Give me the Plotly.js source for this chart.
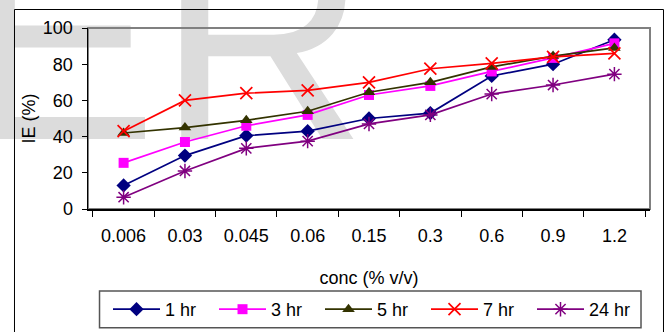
<!DOCTYPE html>
<html>
<head>
<meta charset="utf-8">
<script src="https://cdn.plot.ly/plotly-3.0.1.min.js"></script>
<style>
  html, body { margin: 0; padding: 0; background: #ffffff; }
  #wrap { position: relative; width: 670px; height: 332px; overflow: hidden; background: #ffffff; }
  #wm { position: absolute; left: -36px; top: -107px; font-family: "Liberation Sans", Arial, sans-serif;
        font-size: 290px; line-height: 1; color: #dcdcdc; white-space: nowrap; z-index: 0; }
  #chart { position: absolute; left: 0; top: 0; width: 670px; height: 332px; z-index: 1; }
</style>
</head>
<body>
<div id="wrap">
  <div id="wm">ER</div>
  <div id="chart"></div>
</div>
<script>
const categories = ['0.006', '0.03', '0.045', '0.06', '0.15', '0.3', '0.6', '0.9', '1.2'];
const seriesNames = ['1 hr', '3 hr', '5 hr', '7 hr', '24 hr'];
const hr1  = [13, 29.5, 40.5, 43, 50, 53, 73.5, 80, 93.5];
const hr3  = [25.5, 37, 46, 52, 63, 68, 76, 83.5, 91.5];
const hr5  = [42, 45, 49, 54, 64.5, 70, 78.5, 84.5, 89];
const hr7  = [43, 60, 64, 65.5, 70, 77.5, 80.5, 84, 86];
const hr24 = [6.5, 21, 33.5, 37.5, 47, 52, 63.5, 68.5, 74.5];
const yTicks = [0, 20, 40, 60, 80, 100];

const styles = [
  {color: '#000080', symbol: 'diamond', size: 11, lw: 0},
  {color: '#FF00FF', symbol: 'square', size: 10, lw: 0},
  {color: '#333300', symbol: 'triangle-up', size: 11, lw: 0},
  {color: '#FF0000', symbol: 'x-thin-open', size: 12, lw: 1.7},
  {color: '#800080', symbol: 'asterisk-open', size: 12, lw: 1.5}
];
const values = [hr1, hr3, hr5, hr7, hr24];

const traces = values.map((v, i) => ({
  type: 'scatter', mode: 'lines+markers',
  x: categories, y: v, name: seriesNames[i],
  line: {color: styles[i].color, width: 1.7},
  marker: {symbol: styles[i].symbol, size: styles[i].size, color: styles[i].color,
           line: {color: styles[i].color, width: styles[i].lw}}
}));

const font = {family: '"Liberation Sans", Arial, sans-serif', color: '#000000', size: 18};

const layout = {
  width: 670, height: 332,
  margin: {l: 88, r: 20, t: 28, b: 123, autoexpand: false},
  paper_bgcolor: 'rgba(0,0,0,0)', plot_bgcolor: 'rgba(0,0,0,0)',
  font: font,
  showlegend: true,
  xaxis: {
    type: 'category', tickson: 'boundaries', ticks: 'outside', ticklen: 6, tickcolor: '#000',
    showline: true, linecolor: '#000', linewidth: 1.5, showgrid: false, zeroline: false,
    ticklabelstandoff: 10, tickfont: font, automargin: false,
    title: {text: 'conc (% v/v)', font: font, standoff: 26}
  },
  yaxis: {
    range: [0, 100], tickvals: yTicks, ticktext: yTicks.map(String),
    ticks: 'outside', ticklen: 5, tickcolor: '#000',
    showline: true, linecolor: '#000', linewidth: 1.5, showgrid: false, zeroline: false,
    ticklabelstandoff: 5, tickfont: font, automargin: false,
    title: {text: 'IE (%)', font: font, standoff: 2}
  },
  legend: {
    orientation: 'h', x: 0.0356, y: -0.453, xanchor: 'left', yanchor: 'top',
    borderwidth: 0, bgcolor: 'rgba(0,0,0,0)', font: font,
    itemwidth: 47, entrywidth: 44, entrywidthmode: 'pixels', traceorder: 'normal'
  },
  shapes: [
    {type: 'rect', xref: 'paper', yref: 'paper', x0: 0, x1: 1, y0: 0, y1: 1,
     line: {color: '#808080', width: 2}, layer: 'below'},
    {type: 'rect', xref: 'paper', yref: 'paper', x0: -0.1308, x1: 1.024, y0: -0.9, y1: 1.1022,
     line: {color: '#000000', width: 1}, layer: 'below'},
    {type: 'rect', xref: 'paper', yref: 'paper', x0: 0.0205, x1: 0.984, y0: -0.656, y1: -0.453,
     line: {color: '#555555', width: 1.5}, fillcolor: '#ffffff', layer: 'below'}
  ]
};

Plotly.newPlot('chart', traces, layout, {displayModeBar: false, staticPlot: true});
</script>
</body>
</html>
